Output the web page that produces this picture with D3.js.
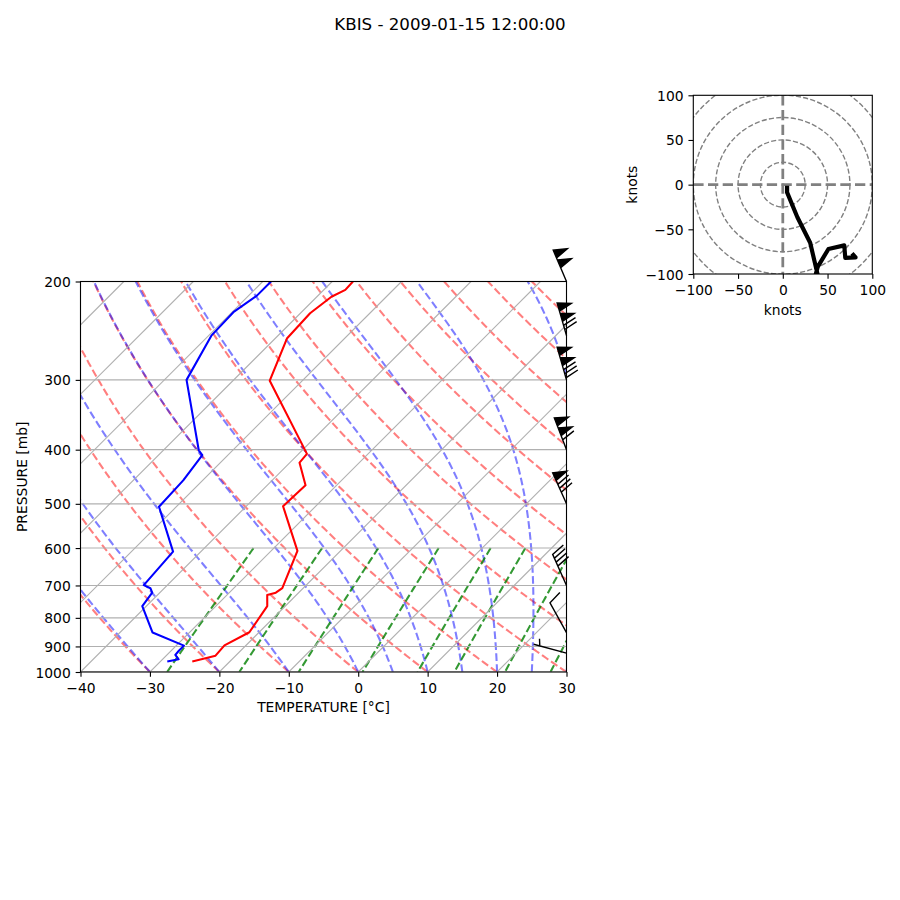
<!DOCTYPE html>
<html><head><meta charset="utf-8">
<script src="https://cdn.jsdelivr.net/npm/d3@7"></script>
<style>
html,body{margin:0;padding:0;background:#fff;}
svg{display:block;font-family:"DejaVu Sans",sans-serif;}
</style></head><body>
<svg id="chart" width="900" height="900"></svg>
<script>
// ---------------- data ----------------
const titleText = "KBIS - 2009-01-15 12:00:00";
const tempP = [958, 935, 896, 849, 762, 728, 721, 708, 607, 505, 463, 422, 407, 301, 253, 228, 213, 207, 200];
const tempC = [-25.4, -22.9, -23.1, -21.4, -22.6, -24.2, -23.3, -23.0, -26.2, -34.7, -34.5, -38.6, -38.8, -54.7, -58.3, -58.6, -57.9, -56.9, -57.0];
const dewP = [958, 949, 932, 916, 897, 850, 762, 721, 708, 699, 609, 506, 454, 409, 401, 300, 250, 227, 212, 200];
const dewC = [-29.0, -27.7, -28.8, -28.9, -28.9, -35.3, -40.6, -41.1, -42.0, -43.4, -44.0, -52.5, -52.8, -53.7, -54.9, -66.8, -69.6, -69.8, -68.8, -68.8];
const barbP = [925, 850, 700, 500, 400, 300, 250, 200];
const barbDir = [285, 331, 336, 336, 339, 344, 344, 337];
const barbSpd = [5, 10, 40, 80, 110, 130, 120, 100];
const hodoU = [4.8, 4.8, 16.3, 30.6, 39.4, 35.8, 33.0, 39.0, 51.0, 68.7, 69.8, 81.3, 77.3];
const hodoV = [-1.3, -8.7, -36.5, -65.0, -102.7, -125.0, -115.0, -92.0, -72.0, -68.0, -82.0, -81.4, -76.9];
const xTicks = [-40, -30, -20, -10, 0, 10, 20, 30];
const yTicks = [200, 300, 400, 500, 600, 700, 800, 900, 1000];
const isotherms = d3.range(-100, 40, 10);
const dryT0 = d3.range(-40, 240, 10);
const moistT0 = [-40, -30, -20, -10].concat(d3.range(0, 85, 5));
const mixW = [0.0004, 0.001, 0.002, 0.004, 0.007, 0.01, 0.016, 0.024, 0.032];
const hodoTicks = [-100, -50, 0, 50, 100];
const hodoRings = [25, 50, 75, 100, 125, 150];

// ---------------- layout ----------------
const svg = d3.select("#chart");
const FS = 13.89;
const X0 = 80.5, X1 = 566.5, YT = 281.5, YB = 672;
const xScale = d3.scaleLinear().domain([-40, 30]).range([X0, X1]);
const yScale = d3.scaleLog().domain([1000, 200]).range([YB, YT]);
const skewX = (T, p) => xScale(T) + (YB - yScale(p));
const fmt = d => (d < 0 ? "\u2212" + Math.abs(d) : String(d));

// thermodynamics (for reference lines)
const Rd = 287.04749, Cp = 1004.6662, Lv = 2.50084e6, eps = 0.6219569, kappa = Rd / Cp;
const satVP = Tk => { const tc = Tk - 273.15; return 6.112 * Math.exp(17.67 * tc / (tc + 243.5)); };
const satMR = (p, Tk) => { const es = satVP(Tk); return eps * es / (p - es); };
const dTdp = (p, T) => { const rs = satMR(p, T); return (Rd * T + Lv * rs) / (Cp + Lv * Lv * rs * eps / (Rd * T * T)) / p; };
const presLevels = d3.range(0, 101).map(i => 1000 - i * 8);

svg.append("defs").append("clipPath").attr("id", "skclip")
  .append("rect").attr("x", X0).attr("y", YT).attr("width", X1 - X0).attr("height", YB - YT);

const plot = svg.append("g").attr("clip-path", "url(#skclip)");
const line = d3.line().x(d => skewX(d.T, d.p)).y(d => yScale(d.p));

// dry adiabats
dryT0.forEach(t0 => {
  const th = t0 + 273.15;
  const pts = presLevels.map(p => ({p, T: th * Math.pow(p / 1000, kappa) - 273.15}));
  plot.append("path").attr("d", line(pts)).attr("fill", "none").attr("stroke", "#ff0000")
    .attr("stroke-opacity", 0.5).attr("stroke-width", 2.08).attr("stroke-dasharray", "7.7,3.33");
});
// moist adiabats
moistT0.forEach(t0 => {
  let T = t0 + 273.15;
  const pts = [{p: 1000, T: t0}];
  for (let i = 1; i < presLevels.length; i++) {
    const p0 = presLevels[i - 1], p1 = presLevels[i];
    const n = 8, h = (p1 - p0) / n;
    let p = p0;
    for (let k = 0; k < n; k++) {
      const k1 = dTdp(p, T), k2 = dTdp(p + h / 2, T + h / 2 * k1), k3 = dTdp(p + h / 2, T + h / 2 * k2), k4 = dTdp(p + h, T + h * k3);
      T += h / 6 * (k1 + 2 * k2 + 2 * k3 + k4); p += h;
    }
    pts.push({p: p1, T: T - 273.15});
  }
  plot.append("path").attr("d", line(pts)).attr("fill", "none").attr("stroke", "#0000ff")
    .attr("stroke-opacity", 0.5).attr("stroke-width", 2.08).attr("stroke-dasharray", "7.7,3.33");
});
// mixing ratio lines
mixW.forEach(w => {
  const pts = d3.range(0, 51).map(i => {
    const p = 600 + i * 8;
    const e = p * w / (eps + w);
    const l = Math.log(e / 6.112);
    return {p, T: 243.5 * l / (17.67 - l)};
  });
  plot.append("path").attr("d", line(pts)).attr("fill", "none").attr("stroke", "#008000")
    .attr("stroke-opacity", 0.8).attr("stroke-width", 2.08).attr("stroke-dasharray", "7.7,3.33");
});
// grid: isotherms and isobars
isotherms.forEach(t => {
  plot.append("line").attr("x1", skewX(t, 1000)).attr("y1", yScale(1000))
    .attr("x2", skewX(t, 200)).attr("y2", yScale(200))
    .attr("stroke", "#b0b0b0").attr("stroke-width", 1.11);
});
yTicks.forEach(p => {
  plot.append("line").attr("x1", X0).attr("x2", X1).attr("y1", yScale(p)).attr("y2", yScale(p))
    .attr("stroke", "#b0b0b0").attr("stroke-width", 1.11);
});
// profiles
const tPts = tempP.map((p, i) => ({p, T: tempC[i]}));
const dPts = dewP.map((p, i) => ({p, T: dewC[i]}));
plot.append("path").attr("d", line(tPts)).attr("fill", "none").attr("stroke", "#ff0000")
  .attr("stroke-width", 2.08).attr("stroke-linejoin", "round");
plot.append("path").attr("d", line(dPts)).attr("fill", "none").attr("stroke", "#0000ff")
  .attr("stroke-width", 2.08).attr("stroke-linejoin", "round");

// frame
svg.append("rect").attr("x", X0).attr("y", YT).attr("width", X1 - X0).attr("height", YB - YT)
  .attr("fill", "none").attr("stroke", "#000").attr("stroke-width", 1.11);

// axes
const xAx = svg.append("g").attr("transform", `translate(0,${YB})`)
  .call(d3.axisBottom(xScale).tickValues(xTicks).tickSize(4.86).tickFormat(fmt));
const yAx = svg.append("g").attr("transform", `translate(${X0},0)`)
  .call(d3.axisLeft(yScale).tickValues(yTicks).tickSize(4.86).tickFormat(d => String(d)));
[xAx, yAx].forEach(g => {
  g.select(".domain").remove();
  g.selectAll(".tick line").attr("stroke", "#000").attr("stroke-width", 1.11);
  g.selectAll("text").attr("font-size", FS).attr("font-family", "DejaVu Sans").attr("fill", "#000");
});
xAx.selectAll("text").attr("y", 21).attr("dy", 0);
yAx.selectAll("text").attr("x", -9.72).attr("dy", 5);

svg.append("text").attr("x", (X0 + X1) / 2).attr("y", 712).attr("text-anchor", "middle")
  .attr("font-size", FS).text("TEMPERATURE [\u00B0C]");
svg.append("text").attr("transform", `translate(26.5,${(YT + YB) / 2}) rotate(-90)`).attr("text-anchor", "middle")
  .attr("font-size", FS).text("PRESSURE [mb]");
svg.append("text").attr("x", 450).attr("y", 30).attr("text-anchor", "middle")
  .attr("font-size", 16.67).text(titleText);

// wind barbs
const S = 3.5 * 100 / 72;
function barbVerts(spd, dir) {
  const L = 7, spacing = L * 0.125, fh = L * 0.4, fw = L * 0.25;
  let mag = 5 * Math.round(spd / 5);
  const nflags = Math.floor(mag / 50); mag -= nflags * 50;
  const nbarbs = Math.floor(mag / 10); mag -= nbarbs * 10;
  const half = mag >= 5;
  const v = [[0, 0]];
  let off = L;
  for (let i = 0; i < nflags; i++) {
    if (off !== L) off += spacing / 2;
    v.push([0, off], [fh, off - fw / 2], [0, off - fw]);
    off -= fw + spacing;
  }
  for (let i = 0; i < nbarbs; i++) {
    v.push([0, off], [fh, off + fw / 2], [0, off]);
    off -= spacing;
  }
  if (half) {
    if (off === L) { v.push([0, off]); off -= 1.5 * spacing; }
    v.push([0, off], [fh / 2, off + fw / 4], [0, off]);
  }
  const r = dir * Math.PI / 180;
  const u = -spd * Math.sin(r), vv = -spd * Math.cos(r);
  const rot = Math.atan2(vv, u) + Math.PI / 2;
  const c = Math.cos(rot), s = Math.sin(rot);
  return v.map(([x, y]) => [x * c - y * s, x * s + y * c]);
}
barbP.forEach((p, i) => {
  const bx = X1, by = yScale(p);
  const vs = barbVerts(barbSpd[i], barbDir[i]).map(([x, y]) => [bx + x * S, by - y * S]);
  svg.append("path").attr("d", "M" + vs.map(d => d.join(",")).join("L") + "Z")
    .attr("fill", "#000").attr("stroke", "#000").attr("stroke-width", 1.39).attr("stroke-linejoin", "miter");
});

// ---------------- hodograph ----------------
const HX0 = 693.3, HX1 = 872.3, HYT = 95.3, HYB = 274;
const hx = d3.scaleLinear().domain([-100, 100]).range([HX0, HX1]);
const hy = d3.scaleLinear().domain([-100, 100]).range([HYB, HYT]);
svg.select("defs").append("clipPath").attr("id", "hclip")
  .append("rect").attr("x", HX0).attr("y", HYT).attr("width", HX1 - HX0).attr("height", HYB - HYT);
const hg = svg.append("g").attr("clip-path", "url(#hclip)");
hodoRings.forEach(r => {
  hg.append("circle").attr("cx", hx(0)).attr("cy", hy(0)).attr("r", hx(r) - hx(0))
    .attr("fill", "none").attr("stroke", "#808080").attr("stroke-width", 1.39).attr("stroke-dasharray", "5.14,2.22");
});
hg.append("line").attr("x1", hx(0)).attr("x2", hx(0)).attr("y1", HYT).attr("y2", HYB)
  .attr("stroke", "#808080").attr("stroke-width", 2.78).attr("stroke-dasharray", "10.3,4.4");
hg.append("line").attr("y1", hy(0)).attr("y2", hy(0)).attr("x1", HX0).attr("x2", HX1)
  .attr("stroke", "#808080").attr("stroke-width", 2.78).attr("stroke-dasharray", "10.3,4.4");
const hline = d3.line().x(d => hx(d[0])).y(d => hy(d[1]));
hg.append("path").attr("d", hline(hodoU.map((u, i) => [u, hodoV[i]]))).attr("fill", "none")
  .attr("stroke", "#000").attr("stroke-width", 4.17).attr("stroke-linejoin", "round");
svg.append("rect").attr("x", HX0).attr("y", HYT).attr("width", HX1 - HX0).attr("height", HYB - HYT)
  .attr("fill", "none").attr("stroke", "#000").attr("stroke-width", 1.11);
const hxAx = svg.append("g").attr("transform", `translate(0,${HYB})`)
  .call(d3.axisBottom(hx).tickValues(hodoTicks).tickSize(4.86).tickFormat(fmt));
const hyAx = svg.append("g").attr("transform", `translate(${HX0},0)`)
  .call(d3.axisLeft(hy).tickValues(hodoTicks).tickSize(4.86).tickFormat(fmt));
[hxAx, hyAx].forEach(g => {
  g.select(".domain").remove();
  g.selectAll(".tick line").attr("stroke", "#000").attr("stroke-width", 1.11);
  g.selectAll("text").attr("font-size", FS).attr("font-family", "DejaVu Sans").attr("fill", "#000");
});
hxAx.selectAll("text").attr("y", 21).attr("dy", 0);
hyAx.selectAll("text").attr("x", -9.72).attr("dy", 5);
svg.append("text").attr("x", (HX0 + HX1) / 2).attr("y", 315).attr("text-anchor", "middle")
  .attr("font-size", FS).text("knots");
svg.append("text").attr("transform", `translate(636.7,${(HYT + HYB) / 2}) rotate(-90)`).attr("text-anchor", "middle")
  .attr("font-size", FS).text("knots");
</script>
</body></html>
